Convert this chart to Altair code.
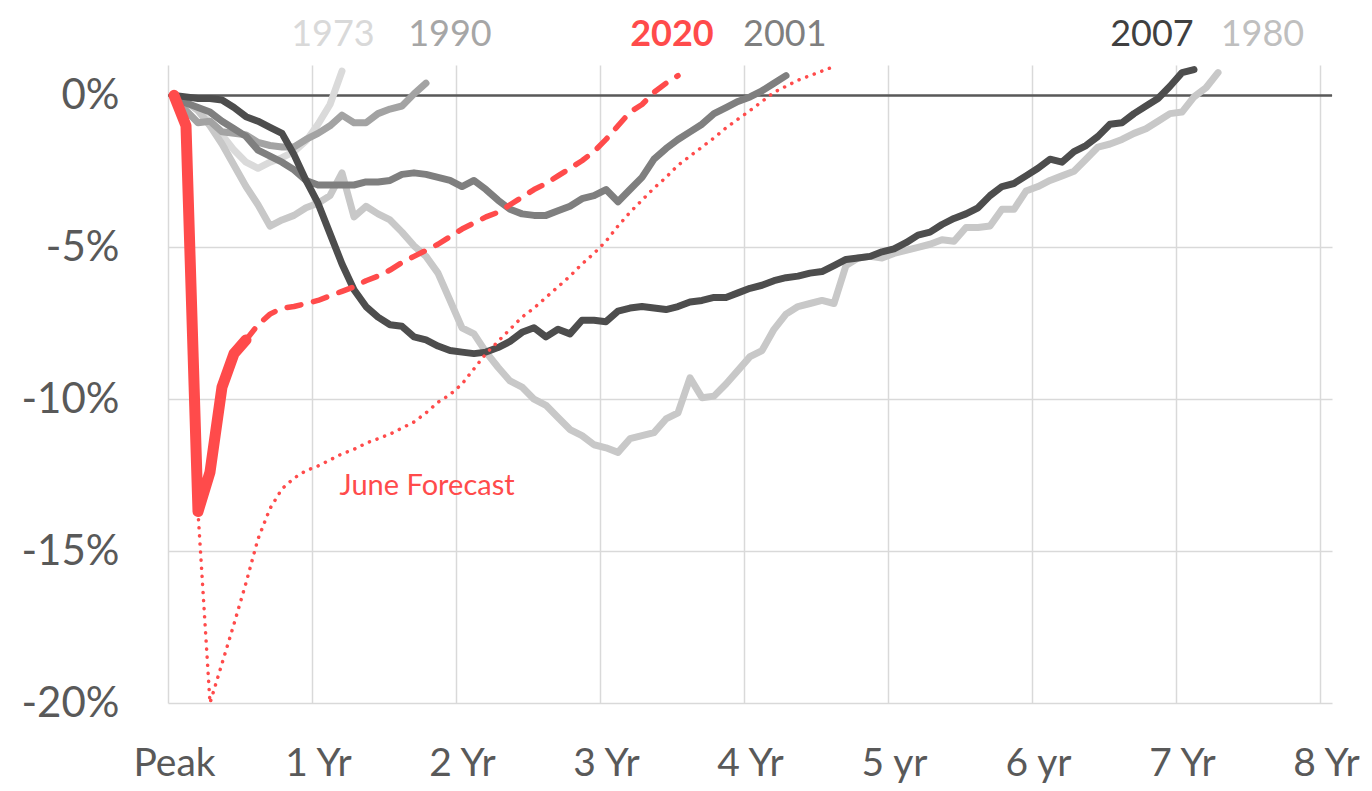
import json
import altair as alt
import pandas as pd

# ---------------- data (percent change from peak, monthly, month 0 = peak) ----------------
s1973 = [0, -0.2, -0.5, -0.9, -1.3, -1.8, -2.2, -2.4, -2.2, -2.05,
         -1.85, -1.5, -0.95, -0.3, 0.8]

s1980 = [0, -0.2, -0.5, -1.0, -1.6, -2.3, -3.0, -3.6, -4.3, -4.1,
         -3.95, -3.7, -3.55, -3.3, -2.55, -4.0, -3.65, -3.9, -4.1, -4.5,
         -4.95, -5.3, -5.85, -6.75, -7.65, -7.85, -8.45, -8.95, -9.4, -9.6,
         -10.0, -10.2, -10.6, -11.0, -11.2, -11.5, -11.6, -11.75, -11.3, -11.2,
         -11.1, -10.65, -10.45, -9.3, -9.95, -9.9, -9.5, -9.05, -8.6, -8.4,
         -7.7, -7.2, -6.95, -6.85, -6.75, -6.85, -5.6, -5.35, -5.3, -5.35,
         -5.2, -5.1, -5.0, -4.9, -4.75, -4.8, -4.35, -4.35, -4.3, -3.75,
         -3.75, -3.15, -3.0, -2.8, -2.65, -2.5, -2.1, -1.7, -1.6, -1.45,
         -1.25, -1.1, -0.85, -0.6, -0.55, -0.05, 0.25, 0.75]

s1990 = [0, -0.5, -0.9, -0.85, -1.2, -1.25, -1.3, -1.55, -1.65, -1.7,
         -1.7, -1.45, -1.25, -1.0, -0.65, -0.9, -0.9, -0.6, -0.45, -0.35,
         0.05, 0.4]

s2001 = [0, -0.25, -0.4, -0.55, -0.85, -1.1, -1.35, -1.8, -2.0, -2.2,
         -2.45, -2.8, -2.95, -2.95, -2.95, -2.95, -2.85, -2.85, -2.8, -2.6,
         -2.55, -2.6, -2.7, -2.8, -3.0, -2.8, -3.1, -3.45, -3.75, -3.9,
         -3.95, -3.95, -3.8, -3.65, -3.4, -3.3, -3.1, -3.5, -3.1, -2.7,
         -2.1, -1.75, -1.45, -1.2, -0.95, -0.6, -0.4, -0.2, -0.05, 0.15,
         0.4, 0.65]

s2007 = [0, -0.05, -0.1, -0.1, -0.15, -0.4, -0.7, -0.85, -1.05, -1.25,
         -1.95, -2.8, -3.55, -4.55, -5.55, -6.4, -6.95, -7.3, -7.55, -7.6,
         -7.95, -8.05, -8.25, -8.4, -8.45, -8.5, -8.45, -8.3, -8.1, -7.8,
         -7.65, -7.95, -7.7, -7.85, -7.4, -7.4, -7.45, -7.1, -7.0, -6.95,
         -7.0, -7.05, -6.95, -6.8, -6.75, -6.65, -6.65, -6.5, -6.35, -6.25,
         -6.1, -6.0, -5.95, -5.85, -5.8, -5.6, -5.4, -5.35, -5.3, -5.15,
         -5.05, -4.85, -4.6, -4.5, -4.25, -4.05, -3.9, -3.7, -3.3, -3.0,
         -2.9, -2.65, -2.4, -2.1, -2.2, -1.85, -1.65, -1.35, -0.95, -0.9,
         -0.6, -0.35, -0.1, 0.3, 0.75, 0.85]

# 2020 actual (months 0-6)
s2020_actual = [0, -1.0, -13.7, -12.4, -9.6, -8.5, -8.05]

# 2020 projection (dashed), starts at month 6
s2020_dash_start = 6
s2020_dash = [-8.05, -7.55, -7.2, -7.0, -6.95, -6.85, -6.75, -6.6, -6.45, -6.3,
              -6.1, -5.95, -5.75, -5.5, -5.3, -5.1, -4.9, -4.65, -4.4, -4.2,
              -4.0, -3.85, -3.6, -3.35, -3.1, -2.9, -2.65, -2.4, -2.15, -1.85,
              -1.45, -1.0, -0.55, -0.3, 0.1, 0.4, 0.65]

# June forecast (dotted), starts at month 2
june_start = 2
june_fc = [-13.7, -20.0, -18.7, -17.4, -16.05, -14.6, -13.6, -12.95, -12.6, -12.35,
           -12.2, -12.0, -11.8, -11.65, -11.45, -11.3, -11.15, -10.95, -10.75, -10.45,
           -10.1, -9.85, -9.5, -9.0, -8.5, -8.1, -7.7, -7.3, -7.0, -6.65,
           -6.3, -5.95, -5.55, -5.2, -4.8, -4.3, -3.85, -3.45, -3.05, -2.7,
           -2.3, -2.0, -1.7, -1.4, -1.07, -0.78, -0.5, -0.2, 0.1, 0.3,
           0.5, 0.65, 0.8, 0.95]

# axis tick labels
x_tick_months = [0, 12, 24, 36, 48, 60, 72, 84, 96]
x_tick_labels = ["Peak", "1 Yr", "2 Yr", "3 Yr", "4 Yr", "5 yr", "6 yr", "7 Yr", "8 Yr"]
y_ticks = [-20, -15, -10, -5, 0]

# series end labels (above the plot)
label_text = ["1973", "1990", "2020", "2001", "2007", "1980"]
label_month = [13.75, 23.5, 42.0, 51.4, 82.0, 91.2]
label_value = [1.98, 1.98, 1.98, 1.98, 1.98, 1.98]
label_color = ["#d9d9d9", "#a6a6a6", "#ff4b4b", "#7f7f7f", "#404040", "#bfbfbf"]
label_bold = [False, False, True, False, False, False]

annot_text = ["June Forecast"]
annot_month = [14.3]
annot_value = [-12.86]

FONT = "Lato"
RED = "#ff4b4b"


def series_df(values, start=0):
    # points sit at the centre of each monthly category
    return pd.DataFrame({
        "month": [start + i + 0.5 for i in range(len(values))],
        "value": values,
    })


x_scale = alt.Scale(domain=[0, 97], nice=False, zero=False)
y_scale = alt.Scale(domain=[-20, 1], nice=False, zero=False)

label_expr = json.dumps(x_tick_labels) + "[round(datum.value / 12)]"

x_axis = alt.Axis(values=x_tick_months, labelExpr=label_expr, title=None,
                  grid=True, gridColor="#d9d9d9", gridWidth=1.5,
                  domain=False, ticks=False, labelFont=FONT, labelFontSize=39,
                  labelColor="#595959", labelPadding=41, labelOffset=6,
                  labelFlush=False, labelOverlap=False)
y_axis = alt.Axis(values=y_ticks, labelExpr="datum.value + '%'", title=None,
                  grid=True, gridColor="#d9d9d9", gridWidth=1.5,
                  domain=False, ticks=False, labelFont=FONT, labelFontSize=42,
                  labelColor="#595959", labelPadding=49)

X = alt.X("month:Q", scale=x_scale, axis=x_axis)
Y = alt.Y("value:Q", scale=y_scale, axis=y_axis)


def line(values, color, width, start=0, dash=None):
    kw = dict(color=color, strokeWidth=width, strokeCap="round", strokeJoin="round")
    if dash is not None:
        kw["strokeDash"] = dash
    return alt.Chart(series_df(values, start)).mark_line(**kw).encode(x=X, y=Y)


zero = alt.Chart(pd.DataFrame({"value": [0]})).mark_rule(
    color="#595959", strokeWidth=2.5).encode(y=Y)

lines = [
    line(s1973, "#dadada", 7),
    line(s1980, "#c8c8c8", 7),
    line(s1990, "#a3a3a3", 7),
    line(s2001, "#7f7f7f", 7),
    line(s2007, "#4d4d4d", 7),
    line(june_fc, RED, 3.5, start=june_start, dash=[0.1, 8]),
    line(s2020_dash, RED, 5.5, start=s2020_dash_start, dash=[14, 13]),
    line(s2020_actual, RED, 11),
]

lab_df = pd.DataFrame({"text": label_text, "month": label_month, "value": label_value,
                       "color": label_color, "bold": label_bold})
labels_normal = alt.Chart(lab_df).transform_filter("!datum.bold").mark_text(
    font=FONT, fontSize=36, align="center", baseline="middle").encode(
    x=X, y=Y, text="text:N", color=alt.Color("color:N", scale=None))
labels_bold = alt.Chart(lab_df).transform_filter("datum.bold").mark_text(
    font=FONT, fontSize=36, fontWeight="bold", align="center", baseline="middle").encode(
    x=X, y=Y, text="text:N", color=alt.Color("color:N", scale=None))

annot = alt.Chart(pd.DataFrame({"text": annot_text, "month": annot_month, "value": annot_value})).mark_text(
    font=FONT, fontSize=29, align="left", baseline="middle", color=RED).encode(
    x=X, y=Y, text="text:N")

chart = alt.layer(zero, *lines, labels_normal, labels_bold, annot).properties(
    width=1164, height=638,
    autosize=alt.AutoSizeParams(type="none"),
    padding={"left": 160, "top": 57, "right": 32, "bottom": 80},
    background="white",
).configure_view(stroke=None)

chart.save("out.html", embed_options={"renderer": "svg", "actions": False})
